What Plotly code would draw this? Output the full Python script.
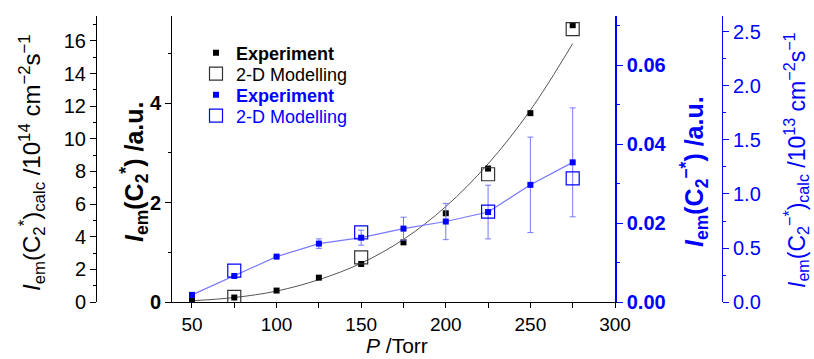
import plotly.graph_objects as go

# ---------------- data ----------------
pressure = [50, 75, 100, 125, 150, 175, 200, 225, 250, 275]
c2_exp = [0.03, 0.09, 0.23, 0.49, 0.765, 1.2, 1.785, 2.685, 3.80, 5.57]          # a.u.
c2_fit_x = [50, 75, 100, 125, 150, 175, 200, 225, 250, 275]
c2_fit_y = [0.025, 0.09, 0.22, 0.45, 0.78, 1.26, 1.92, 2.78, 3.86, 5.2]            # a.u.
model_p = [75, 150, 225, 275]
c2_model = [0.31, 2.74, 7.83, 16.72]                                             # 1e14 cm^-2 s^-1
c2m_exp = [0.0018, 0.0066, 0.0115, 0.0148, 0.0163, 0.0186, 0.0204, 0.0228, 0.0297, 0.0354]  # a.u.
c2m_err = [0, 0, 0, 0.0012, 0.0019, 0.0029, 0.0046, 0.0068, 0.0121, 0.0138]
c2m_model = [0.29, 0.645, 0.836, 1.145]                                          # 1e13 cm^-2 s^-1

x_ticks = [50, 100, 150, 200, 250, 300]

FONT = "Liberation Sans, Arial, sans-serif"
BLUE = "#0000ff"
LBLUE = "#7878ff"

W, H = 814, 359
PL, PR, PT, PB = 172, 615, 16, 302


def px_x(p):
    return p / W


def px_y(p):
    return (PB - p) / (PB - PT)


fig = go.Figure()

# fit curve (black data)
fig.add_trace(go.Scatter(x=c2_fit_x, y=c2_fit_y, mode="lines", line=dict(color="#555555", width=1, shape="spline"),
                         showlegend=False, yaxis="y", hoverinfo="skip"))
# blue connecting line
fig.add_trace(go.Scatter(x=pressure, y=c2m_exp, mode="lines", line=dict(color=LBLUE, width=1.2),
                         showlegend=False, yaxis="y3", hoverinfo="skip"))

fig.add_trace(go.Scatter(x=pressure, y=c2_exp, mode="markers", name="<b>Experiment</b>",
                         marker=dict(symbol="square", size=6, color="black"), yaxis="y", legend="legend"))
fig.add_trace(go.Scatter(x=model_p, y=c2_model, mode="markers", name="2-D Modelling",
                         marker=dict(symbol="square-open", size=13, color="#333333", line=dict(width=1.2)),
                         yaxis="y2", legend="legend2"))
fig.add_trace(go.Scatter(x=pressure, y=c2m_exp, mode="markers",
                         name="<span style='color:#0000ff'><b>Experiment</b></span>",
                         marker=dict(symbol="square", size=6, color=BLUE),
                         error_y=dict(type="data", array=c2m_err, color=LBLUE, thickness=1, width=3),
                         yaxis="y3", legend="legend3"))
fig.add_trace(go.Scatter(x=model_p, y=c2m_model, mode="markers",
                         name="<span style='color:#0000ff'>2-D Modelling</span>",
                         marker=dict(symbol="square-open", size=13, color=BLUE, line=dict(width=1.2)),
                         yaxis="y4", legend="legend4"))

TS = 20
tick_font = dict(family=FONT, size=TS, color="black")
tick_font_x = dict(family=FONT, size=19, color="black")
tick_font_b = dict(family=FONT, size=TS, color="black", weight="bold")
tick_font_blue = dict(family=FONT, size=TS, color=BLUE)
tick_font_blue_b = dict(family=FONT, size=TS, color=BLUE, weight="bold")

xdom = [px_x(PL), px_x(PR)]
xr = [38.2, 300]


def leg(row_y):
    return dict(x=px_x(196), y=px_y(row_y), xanchor="left", yanchor="middle", bgcolor="rgba(0,0,0,0)",
                font=dict(family=FONT, size=18, color="black"), itemwidth=30, borderwidth=0)


fig.update_layout(
    width=W, height=H,
    margin=dict(l=0, r=0, t=PT, b=H - PB, autoexpand=False),
    paper_bgcolor="white", plot_bgcolor="white",
    font=dict(family=FONT, color="black"),
    xaxis=dict(domain=xdom, range=xr, tickvals=x_ticks, ticks="outside", ticklen=5, tickcolor="black",
               showline=True, linecolor="black", linewidth=1, showgrid=False, zeroline=False,
               tickfont=tick_font_x, anchor="y", automargin=False,
               minor=dict(ticks="outside", ticklen=5, dtick=25, tick0=25, tickcolor="black", showgrid=False)),
    xaxis2=dict(domain=xdom, range=xr, overlaying="x", side="top", anchor="y", tickvals=x_ticks,
                ticks="inside", ticklen=5, tickcolor="black", showticklabels=False, automargin=False,
                showline=True, linecolor="black", linewidth=1, showgrid=False, zeroline=False,
                minor=dict(ticks="inside", ticklen=5, dtick=25, tick0=25, tickcolor="black", showgrid=False)),
    yaxis=dict(range=[0, 5.755], dtick=2, ticks="outside", ticklen=6, tickcolor="black",
               showline=True, linecolor="black", linewidth=1, showgrid=False, zeroline=False,
               tickfont=tick_font_b, anchor="x", automargin=False,
               minor=dict(ticks="outside", ticklen=3, dtick=1, tickcolor="black", showgrid=False)),
    yaxis2=dict(range=[0, 17.53], dtick=2, ticks="outside", ticklen=6, tickcolor="black",
                showline=True, linecolor="black", linewidth=1, showgrid=False, zeroline=False,
                tickfont=tick_font, overlaying="y", anchor="free", position=px_x(96), side="left",
                automargin=False,
                minor=dict(ticks="outside", ticklen=3, dtick=1, tickcolor="black", showgrid=False)),
    yaxis3=dict(range=[0, 0.0725], dtick=0.02, tickformat=".2f", ticks="outside", ticklen=6, tickcolor=BLUE,
                showline=True, linecolor=BLUE, linewidth=1.5, showgrid=False, zeroline=False,
                tickfont=tick_font_blue_b, overlaying="y", anchor="x", side="right", automargin=False,
                minor=dict(ticks="outside", ticklen=3, dtick=0.01, tickcolor=BLUE, showgrid=False)),
    yaxis4=dict(range=[0, 2.648], dtick=0.5, tickformat=".1f", ticks="outside", ticklen=6, tickcolor=BLUE,
                showline=True, linecolor=BLUE, linewidth=1, showgrid=False, zeroline=False,
                tickfont=tick_font_blue, overlaying="y", anchor="free", position=px_x(722), side="right",
                automargin=False,
                minor=dict(ticks="outside", ticklen=3, dtick=0.25, tickcolor=BLUE, showgrid=False)),
    legend=leg(53), legend2=leg(74), legend3=leg(95), legend4=leg(116),
    showlegend=True,
)

titles = [
    ("<i>I</i><sub>em</sub>(C<sub>2</sub><sup>*</sup>)<sub>calc</sub> /10<sup>14</sup> cm<sup>−2</sup>s<sup>−1</sup>",
     32, 163, dict(family=FONT, size=24, color="black")),
    ("<b><i>I</i><sub>em</sub>(C<sub>2</sub><sup>*</sup>) /a.u.</b>",
     134, 172, dict(family=FONT, size=25, color="black")),
    ("<b><i>I</i><sub>em</sub>(C<sub>2</sub><sup>−*</sup>) /a.u.</b>",
     694, 172, dict(family=FONT, size=25, color=BLUE)),
    ("<i>I</i><sub>em</sub>(C<sub>2</sub><sup>−*</sup>)<sub>calc</sub> /10<sup>13</sup> cm<sup>−2</sup>s<sup>−1</sup>",
     796, 160, dict(family=FONT, size=23, color=BLUE)),
]
for txt, cx, cy, f in titles:
    fig.add_annotation(text=txt, xref="paper", yref="paper", x=px_x(cx), y=px_y(cy), textangle=-90,
                       showarrow=False, font=f, xanchor="center", yanchor="middle")

fig.add_annotation(text="<i>P</i> /Torr", xref="paper", yref="paper", x=px_x(397), y=px_y(346),
                   showarrow=False, font=dict(family=FONT, size=21, color="black"), borderpad=0,
                   xanchor="center", yanchor="middle")

fig.write_html("out.html")
